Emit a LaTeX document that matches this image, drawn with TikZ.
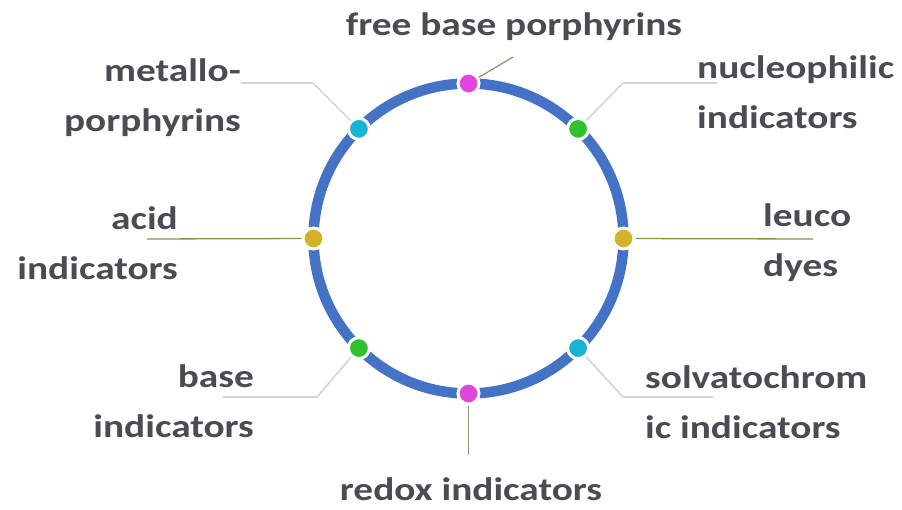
\documentclass[tikz,border=0pt]{standalone}
\usepackage{fontspec}
\setmainfont{Carlito}[FakeStretch=1.21]
\definecolor{ringblue}{HTML}{4472C4}
\definecolor{txt}{HTML}{4B4B53}
\definecolor{leadgray}{HTML}{D4D4D4}
\definecolor{leadgreen}{HTML}{74A044}
\definecolor{leadolive}{HTML}{8E9A72}
\definecolor{dotmagenta}{HTML}{E245DC}
\definecolor{dotgreen}{HTML}{2EC22E}
\definecolor{dotcyan}{HTML}{17B4D4}
\definecolor{dotgold}{HTML}{D2B22A}
\begin{document}
\begin{tikzpicture}[x=1pt,y=-1pt,
  lbl/.style={font=\fontsize{32.5}{50}\selectfont\bfseries, text=txt, inner sep=0pt},
  dot/.style={circle, minimum size=21pt, inner sep=0pt, draw=white, line width=3pt},
  greylead/.style={draw=leadgray, line width=1.6pt},
  greenlead/.style={draw=leadgreen, line width=1.3pt},
  olivelead/.style={draw=leadolive, line width=1.3pt}]
\useasboundingbox[fill=white] (0,0) rectangle (902,510);

% ring
\node[circle, draw=ringblue, line width=10.5pt, minimum size=310pt,
      inner sep=0pt, outer sep=0pt] (ring) at (468.5,238.5) {};

% markers on the ring
\node[dot, fill=dotmagenta] (dTop)  at (ring.90)  {};
\node[dot, fill=dotgreen]   (dNuc)  at (ring.45)  {};
\node[dot, fill=dotgold]    (dLeu)  at (ring.0)   {};
\node[dot, fill=dotcyan]    (dSol)  at (ring.-45) {};
\node[dot, fill=dotmagenta] (dBot)  at (ring.-90) {};
\node[dot, fill=dotgreen]   (dBase) at (ring.-135){};
\node[dot, fill=dotgold]    (dAcid) at (ring.180) {};
\node[dot, fill=dotcyan]    (dMet)  at (ring.135) {};

% labels (base anchor = baseline of the last line)
\node[lbl, anchor=base] (lTop) at (514,36) {free base porphyrins};
\node[lbl, align=right, anchor=base east] (lMet) at (241,132) {metallo-\\porphyrins};
\node[lbl, align=left, anchor=base west] (lNuc) at (697,129) {nucleophilic\\indicators};
\node[lbl, align=right, anchor=base east] (lAcid) at (178,280) {acid\\indicators};
\node[lbl, align=left, anchor=base west] (lLeu) at (763,277) {leuco\\dyes};
\node[lbl, align=right, anchor=base east] (lBase) at (254,437) {base\\indicators};
\node[lbl, align=left, anchor=base west] (lSol) at (645,438) {solvatochrom\\ic indicators};
\node[lbl, anchor=base] (lBot) at (471,500) {redox indicators};

% leader end points
\coordinate (eTop) at (513,57);
\coordinate (kMet) at (313,83);  \coordinate (eMet) at (241,83);
\coordinate (kNuc) at (623,83);  \coordinate (eNuc) at (717,83);
\coordinate (eAcid) at (147,239);
\coordinate (eLeu) at (813,239);
\coordinate (kBase) at (317,397); \coordinate (eBase) at (223,397);
\coordinate (kSol) at (623,397);  \coordinate (eSol) at (713,397);
\coordinate (eBot) at (468.5,455);

% leaders
\draw[olivelead] (dTop) -- (eTop);
\draw[greylead] (dMet) -- (kMet) -- (eMet);
\draw[greylead] (dNuc) -- (kNuc) -- (eNuc);
\draw[greenlead] (dAcid) -- (eAcid);
\draw[greenlead] (dLeu) -- (eLeu);
\draw[greylead] (dBase) -- (kBase) -- (eBase);
\draw[greylead] (dSol) -- (kSol) -- (eSol);
\draw[olivelead] (dBot) -- (eBot);
\end{tikzpicture}
\end{document}
